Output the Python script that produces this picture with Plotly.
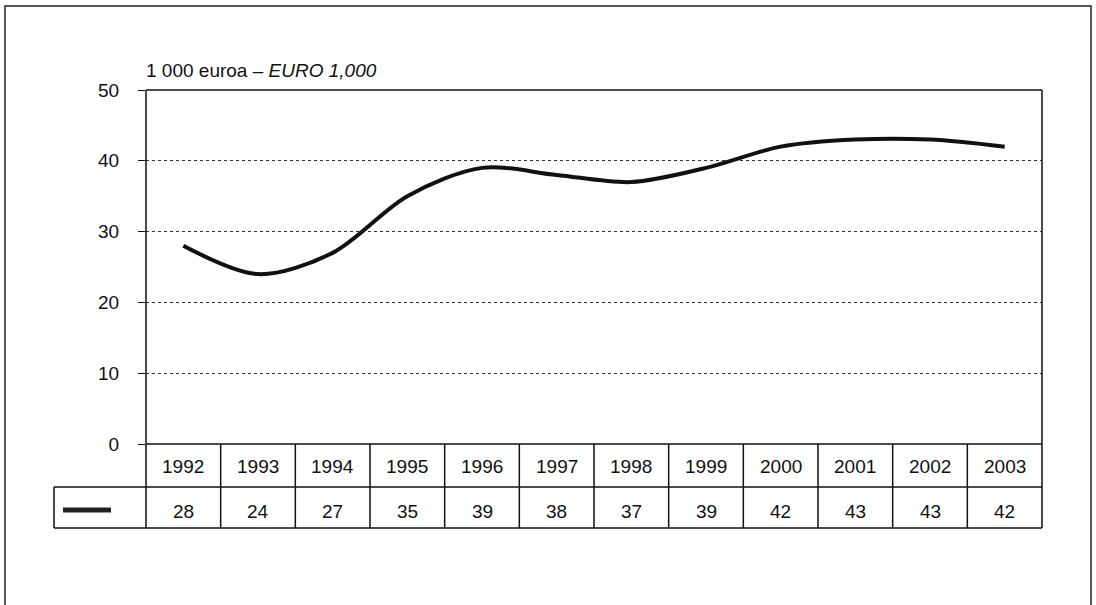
import plotly.graph_objects as go

years = ["1992", "1993", "1994", "1995", "1996", "1997", "1998", "1999", "2000", "2001", "2002", "2003"]
values = [28, 24, 27, 35, 39, 38, 37, 39, 42, 43, 43, 42]
y_ticks = [0, 10, 20, 30, 40, 50]
unit_label = "1 000 euroa – <i>EURO 1,000</i>"

W, H = 1096, 605
L, R, T, B = 146, 1042, 90, 444  # plot area in pixels


def py(p):
    return (B - p) / (B - T)


def px(p):
    return (p - L) / (R - L)


FONT = "Liberation Sans, Arial, sans-serif"
fig = go.Figure()
fig.add_trace(go.Scatter(
    x=list(range(len(years))), y=values, mode="lines",
    line=dict(color="#111111", width=4, shape="spline", smoothing=0.9),
    showlegend=False, hoverinfo="skip",
))

shapes = []
line_k = dict(color="#111111", width=1.5)
# outer frame
shapes.append(dict(type="rect", xref="paper", yref="paper", x0=px(5), x1=px(1091), y0=py(6), y1=py(700),
                   line=dict(color="#222222", width=1.5)))
# plot frame
shapes.append(dict(type="line", xref="paper", yref="paper", x0=0, x1=1, y0=1, y1=1, line=line_k))
shapes.append(dict(type="line", xref="paper", yref="paper", x0=1, x1=1, y0=1, y1=py(528), line=line_k))
shapes.append(dict(type="line", xref="paper", yref="paper", x0=0, x1=0, y0=1, y1=py(528), line=line_k))
# table horizontal lines
shapes.append(dict(type="line", xref="paper", yref="paper", x0=0, x1=1, y0=0, y1=0, line=line_k))
shapes.append(dict(type="line", xref="paper", yref="paper", x0=px(54), x1=1, y0=py(487), y1=py(487), line=line_k))
shapes.append(dict(type="line", xref="paper", yref="paper", x0=px(54), x1=1, y0=py(528), y1=py(528), line=line_k))
shapes.append(dict(type="line", xref="paper", yref="paper", x0=px(54), x1=px(54), y0=py(487), y1=py(528), line=line_k))
# column separators
for i in range(1, len(years)):
    shapes.append(dict(type="line", xref="x", yref="paper", x0=i - 0.5, x1=i - 0.5, y0=0, y1=py(528), line=line_k))
# legend sample
shapes.append(dict(type="line", xref="paper", yref="paper", x0=px(63), x1=px(111), y0=py(510), y1=py(510),
                   line=dict(color="#222222", width=5)))

annotations = []
annotations.append(dict(text=unit_label, xref="paper", yref="paper", x=px(144), y=py(70),
                        xanchor="left", yanchor="middle", showarrow=False,
                        font=dict(family=FONT, size=19, color="#111111")))
for i, (yr, v) in enumerate(zip(years, values)):
    annotations.append(dict(text=yr, xref="x", yref="paper", x=i, y=py(466), showarrow=False,
                            xanchor="center", yanchor="middle", font=dict(family=FONT, size=19, color="#111111")))
    annotations.append(dict(text=str(v), xref="x", yref="paper", x=i, y=py(511), showarrow=False,
                            xanchor="center", yanchor="middle", font=dict(family=FONT, size=19, color="#111111")))

fig.update_layout(
    width=W, height=H,
    margin=dict(l=L, r=W - R, t=T, b=H - B, pad=0),
    paper_bgcolor="white", plot_bgcolor="white",
    shapes=shapes, annotations=annotations,
    font=dict(family=FONT, size=19, color="#111111"),
    xaxis=dict(range=[-0.5, len(years) - 0.5], showticklabels=False, showgrid=False,
               zeroline=False, showline=False, ticks=""),
    yaxis=dict(range=[0, 50], tickvals=y_ticks, ticks="outside", ticklen=7, tickcolor="#111111",
               ticklabelstandoff=15, showgrid=True, gridcolor="#333333", griddash="dot", gridwidth=1,
               zeroline=False, showline=False),
)
fig.write_html("out.html", config={"displayModeBar": False},
               post_script="document.body.style.margin='0';")
